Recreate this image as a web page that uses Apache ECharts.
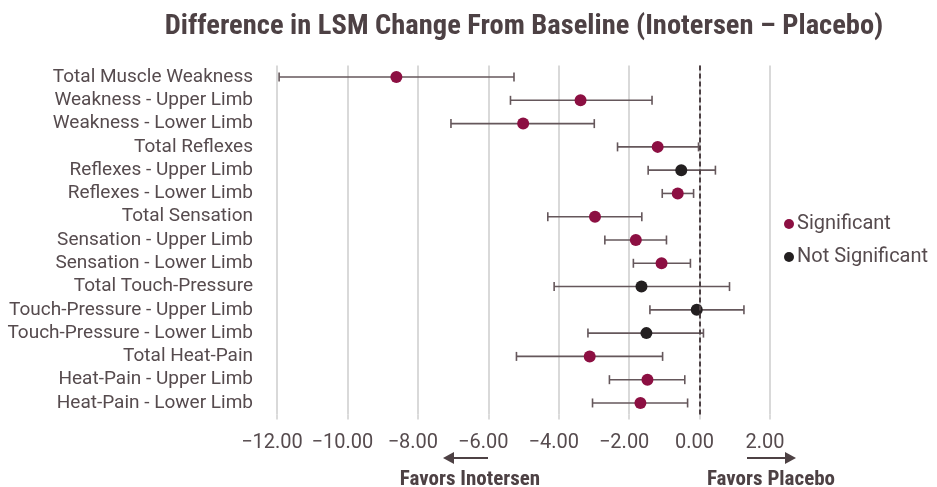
<!DOCTYPE html>
<html>
<head>
<meta charset="utf-8">
<script src="https://cdn.jsdelivr.net/npm/echarts@6/dist/echarts.min.js"></script>
<style>
  html, body { margin: 0; padding: 0; background: #fff; }
  #chart { width: 937px; height: 487px; }
</style>
</head>
<body>
<div id="chart"></div>
<script>
// rows, top to bottom
var categories = [
  'Total Muscle Weakness', 'Weakness - Upper Limb', 'Weakness - Lower Limb',
  'Total Reflexes', 'Reflexes - Upper Limb', 'Reflexes - Lower Limb',
  'Total Sensation', 'Sensation - Upper Limb', 'Sensation - Lower Limb',
  'Total Touch-Pressure', 'Touch-Pressure - Upper Limb', 'Touch-Pressure - Lower Limb',
  'Total Heat-Pain', 'Heat-Pain - Upper Limb', 'Heat-Pain - Lower Limb'
];
var estimate = [-8.61, -3.38, -5.01, -1.19, -0.52, -0.62, -2.97, -1.81, -1.08, -1.65, -0.08, -1.51, -3.12, -1.48, -1.68];
var lower    = [-11.94, -5.37, -7.06, -2.33, -1.46, -1.06, -4.31, -2.69, -1.88, -4.13, -1.41, -3.17, -5.20, -2.56, -3.04];
var upper    = [-5.27, -1.35, -2.99, -0.03, 0.45, -0.17, -1.64, -0.94, -0.26, 0.85, 1.26, 0.11, -1.05, -0.42, -0.34];
var significant = [1, 1, 1, 1, 0, 1, 1, 1, 1, 0, 0, 0, 1, 1, 1];

var textColor = '#564b4e';
var red = '#8c0f42';
var black = '#231f20';
var barColor = '#65575b';
var condensed = '"Roboto Condensed", "Liberation Sans Narrow", Roboto';

var sigData = [], nsData = [], ciData = [];
for (var i = 0; i < categories.length; i++) {
  ciData.push([i, lower[i], upper[i]]);
  if (significant[i]) sigData.push([estimate[i], i]);
  else nsData.push([estimate[i], i]);
}

function renderCI(params, api) {
  var row = api.value(0);
  var a = api.coord([api.value(1), row]);
  var b = api.coord([api.value(2), row]);
  var h = 4.5;
  var st = { stroke: barColor, lineWidth: 1.6 };
  return {
    type: 'group',
    children: [
      { type: 'line', shape: { x1: a[0], y1: a[1], x2: b[0], y2: b[1] }, style: st },
      { type: 'line', shape: { x1: a[0], y1: a[1] - h, x2: a[0], y2: a[1] + h }, style: st },
      { type: 'line', shape: { x1: b[0], y1: b[1] - h, x2: b[0], y2: b[1] + h }, style: st }
    ]
  };
}

var chart = echarts.init(document.getElementById('chart'));
var option = {
  animation: false,
  title: {
    text: 'Difference in LSM Change From Baseline (Inotersen \u2013 Placebo)',
    left: 519, top: 7, textAlign: 'center',
    textStyle: { fontFamily: condensed, fontWeight: 'bold', fontSize: 28.5, color: '#4d4144' }
  },
  legend: {
    orient: 'vertical', left: 779, top: 209, itemGap: 13,
    icon: 'circle', itemWidth: 10, itemHeight: 10,
    textStyle: { fontFamily: 'Roboto', fontSize: 20, color: textColor, padding: [0, 0, 0, -2] },
    data: ['Significant', 'Not Significant']
  },
  grid: { left: 277, right: 167, top: 65.4, bottom: 72.4, containLabel: false, outerBoundsMode: 'none' },
  xAxis: {
    type: 'value', min: -12, max: 2, interval: 2,
    axisLine: { show: false },
    axisTick: { show: true, length: 5, lineStyle: { color: '#cfcfcf', width: 1.5 } },
    splitLine: { show: true, lineStyle: { color: '#d9d9d9', width: 2 } },
    axisLabel: {
      margin: 18, fontFamily: 'Roboto', fontSize: 20, color: textColor, padding: [0, 10, 0, 0],
      formatter: function (v) { return (v < 0 ? '\u2212' : '') + Math.abs(v).toFixed(2); }
    }
  },
  yAxis: {
    type: 'category', data: categories, inverse: true,
    axisLine: { show: false }, axisTick: { show: false },
    axisLabel: { interval: 0, margin: 24, fontFamily: 'Roboto', fontSize: 19, color: textColor }
  },
  series: [
    {
      type: 'custom', renderItem: renderCI, data: ciData,
      encode: { x: [1, 2], y: 0 }, silent: true, z: 2,
      markLine: {
        silent: true, symbol: 'none', label: { show: false },
        lineStyle: { color: '#4d4144', type: [5, 3], width: 2 },
        data: [{ xAxis: 0 }]
      }
    },
    { name: 'Significant', type: 'scatter', data: sigData, symbolSize: 12, itemStyle: { color: red, opacity: 1 }, z: 4 },
    { name: 'Not Significant', type: 'scatter', data: nsData, symbolSize: 12, itemStyle: { color: black, opacity: 1 }, z: 4 }
  ],
  graphic: [
    { type: 'line', shape: { x1: 488, y1: 458, x2: 452, y2: 458 }, style: { stroke: '#4d4144', lineWidth: 2 } },
    { type: 'polygon', shape: { points: [[443, 458], [454, 452], [454, 464]] }, style: { fill: '#4d4144' } },
    { type: 'line', shape: { x1: 747, y1: 458, x2: 786, y2: 458 }, style: { stroke: '#4d4144', lineWidth: 2 } },
    { type: 'polygon', shape: { points: [[796, 458], [785, 452], [785, 464]] }, style: { fill: '#4d4144' } },
    { type: 'text', x: 470, y: 480, style: { text: 'Favors Inotersen', fill: '#4d4144', font: 'bold 21px ' + condensed, textAlign: 'center', textVerticalAlign: 'middle' } },
    { type: 'text', x: 771, y: 480, style: { text: 'Favors Placebo', fill: '#4d4144', font: 'bold 21px ' + condensed, textAlign: 'center', textVerticalAlign: 'middle' } }
  ]
};
chart.setOption(option);
</script>
</body>
</html>
